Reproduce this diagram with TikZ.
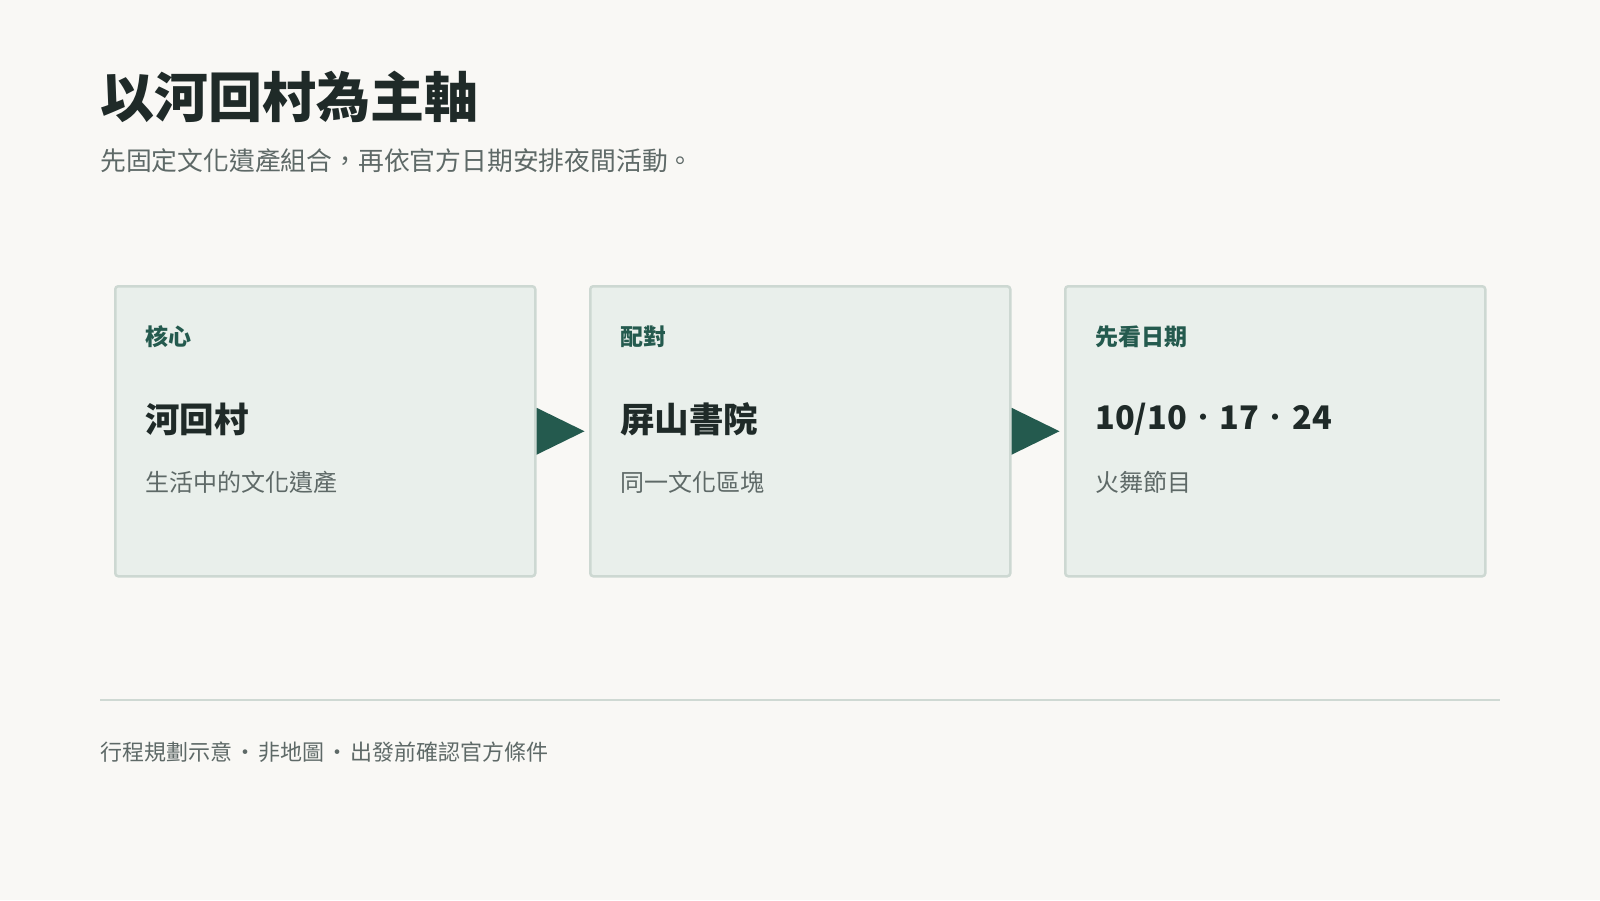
\documentclass[tikz,border=0pt]{standalone}
\usepackage{fontspec}
\setmainfont{Noto Sans CJK TC}
\usetikzlibrary{calc}
\definecolor{bgc}{HTML}{F9F8F5}
\definecolor{boxfill}{HTML}{E9EFEB}
\definecolor{boxline}{HTML}{CDD8D2}
\definecolor{accent}{HTML}{245A4E}
\definecolor{titlec}{HTML}{1F2A28}
\definecolor{subc}{HTML}{5E6967}
\definecolor{rulec}{HTML}{CFD9D3}
\newcommand{\sepdot}[1]{\makebox[#1][c]{·}}
\newcommand{\smalldot}[1]{\makebox[#1][c]{\raisebox{3.5pt}{\fontsize{22}{26}\selectfont ·}}}
\tikzset{
  x=1pt, y=-1pt,
  card/.style={draw=boxline, line width=2.5pt, fill=boxfill, rounded corners=3pt,
    minimum width=420pt, minimum height=290pt, anchor=north west, inner sep=0pt},
  kicker/.style={anchor=west, inner sep=0pt, text=accent, font=\bfseries\fontsize{23}{27}\selectfont},
  headline/.style={anchor=west, inner sep=0pt, text=titlec, font=\bfseries\fontsize{34.5}{40}\selectfont},
  note/.style={anchor=west, inner sep=0pt, text=subc, font=\fontsize{24}{28}\selectfont},
  pointer/.style={fill=accent, draw=none},
}
\begin{document}
\begin{tikzpicture}
\fill[bgc] (0,0) rectangle (1600,900);
\useasboundingbox (0,0) rectangle (1600,900);

\node[anchor=west, inner sep=0pt, text=titlec, font=\bfseries\fontsize{54}{60}\selectfont] (title) at (100,97) {以河回村為主軸};
\node[anchor=west, inner sep=0pt, text=subc, font=\fontsize{25.8}{30}\selectfont] (subtitle) at (100,161) {先固定文化遺產組合，再依官方日期安排夜間活動。};

\node[card] (b1) at (114,285) {};
\node[card] (b2) at (589,285) {};
\node[card] (b3) at (1064,285) {};

\foreach \b/\k/\h/\s in {b1/核心/河回村/生活中的文化遺產, b2/配對/屏山書院/同一文化區塊, b3/先看日期/{\fontsize{32.5}{40}\selectfont 10/10\smalldot{33pt}17\smalldot{33pt}24}/火舞節目}{
  \node[kicker] (\b k) at ($(\b.north west)+(31,52)$) {\k};
  \node[headline] (\b h) at ($(\b.north west)+(31,134)$) {\h};
  \node[note] (\b s) at ($(\b.north west)+(31,197)$) {\s};
}

\fill[pointer] ($(b1.east)+(0,-23.5)$) -- ($(b1.east)+(48,0)$) -- ($(b1.east)+(0,23.5)$) -- cycle;
\fill[pointer] ($(b2.east)+(0,-23.5)$) -- ($(b2.east)+(48,0)$) -- ($(b2.east)+(0,23.5)$) -- cycle;

\coordinate (r1) at (100,700);
\coordinate (r2) at (1500,700);
\draw[rulec, line width=2pt] (r1) -- (r2);

\node[anchor=west, inner sep=0pt, text=subc, font=\fontsize{22}{26}\selectfont] (foot) at (100,752) {行程規劃示意\sepdot{26pt}非地圖\sepdot{26pt}出發前確認官方條件};
\end{tikzpicture}
\end{document}
